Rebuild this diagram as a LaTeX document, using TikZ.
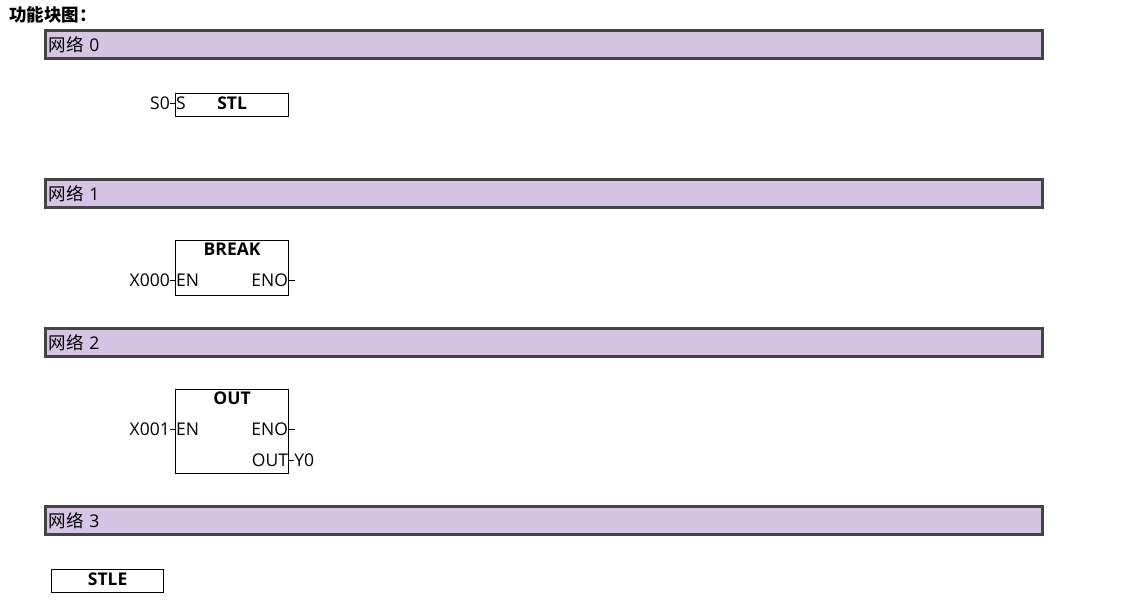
\documentclass[tikz,border=0pt]{standalone}
\usepackage{fontspec}
\setmainfont{Open Sans}
\newfontfamily\cjk{Noto Sans CJK SC}
\usetikzlibrary{positioning}
\definecolor{netfill}{RGB}{213,196,228}
\definecolor{netline}{RGB}{68,68,72}

\begin{document}
\begin{tikzpicture}[x=1pt,y=-1pt,
font=\fontsize{17.5}{20}\selectfont,
netbar/.style = {draw=netline, line width=3pt, fill=netfill,
                 anchor=north west, text width=991pt, inner xsep=3pt,
                 minimum height=28pt, align=left},
fblock/.style = {draw, line width=1.2pt, anchor=north west,
                 minimum width=113pt, minimum height=#1, inner sep=0pt},
ftitle/.style = {font=\fontsize{17.5}{20}\selectfont\bfseries, inner sep=0pt},
pin/.style    = {inner sep=0pt},
wire/.style   = {line width=1pt},
                    ]
\useasboundingbox (0,0) rectangle (1141,603);
\node[ftitle, anchor=west] (head) at (9,15) {\cjk 功能块图：};

% networks
\node[netbar] (n0) at (44,29)  {{\cjk 网络} 0};
\node[netbar] (n1) at (44,178) {{\cjk 网络} 1};
\node[netbar] (n2) at (44,327) {{\cjk 网络} 2};
\node[netbar] (n3) at (44,505) {{\cjk 网络} 3};

% network 0
\node[fblock=23pt] (stl) at (175,93) {};
\node[ftitle] (stlT) at ([yshift=2pt]stl.center) {STL};
\node[pin, anchor=west] (stlS) at ([xshift=1pt]stl.west |- stlT) {S};
\node[pin, anchor=east] (s0) at ([xshift=-6pt]stlS.west) {S0};
\draw[wire] (s0.east) -- (s0.east -| stl.west);

% network 1
\node[fblock=55pt] (brk) at (175,240) {};
\node[ftitle, below=3pt of brk.north] (brkT) {BREAK};
\node[pin, anchor=west] (brkEN) at ([xshift=1pt,yshift=-40pt]brk.north west) {EN};
\node[pin, anchor=east] (brkENO) at ([xshift=-1pt,yshift=-40pt]brk.north east) {ENO};
\node[pin, anchor=east] (x000) at ([xshift=-6pt]brkEN.west) {X000};
\coordinate[right=6pt of brkENO.east -| brk.east] (brkQ);
\draw[wire] (x000.east) -- (x000.east -| brk.west);
\draw[wire] (brkENO.east -| brk.east) -- (brkQ);

% network 2
\node[fblock=84pt] (out) at (175,389) {};
\node[ftitle, below=3pt of out.north] (outT) {OUT};
\node[pin, anchor=west] (outEN) at ([xshift=1pt,yshift=-40pt]out.north west) {EN};
\node[pin, anchor=east] (outENO) at ([xshift=-1pt,yshift=-40pt]out.north east) {ENO};
\node[pin, anchor=east] (outOUT) at ([xshift=-1pt,yshift=-71pt]out.north east) {OUT};
\node[pin, anchor=east] (x001) at ([xshift=-6pt]outEN.west) {X001};
\node[pin, anchor=west] (y0) at ([xshift=5pt]outOUT.east -| out.east) {Y0};
\coordinate[right=6pt of outENO.east -| out.east] (outQ);
\draw[wire] (x001.east) -- (x001.east -| out.west);
\draw[wire] (outENO.east -| out.east) -- (outQ);
\draw[wire] (outOUT.east -| out.east) -- (y0.west);

% network 3
\node[fblock=23pt, minimum width=112pt] (stle) at (51,569) {};
\node[ftitle] (stleT) at ([yshift=2pt]stle.center) {STLE};
\end{tikzpicture}
\end{document}
